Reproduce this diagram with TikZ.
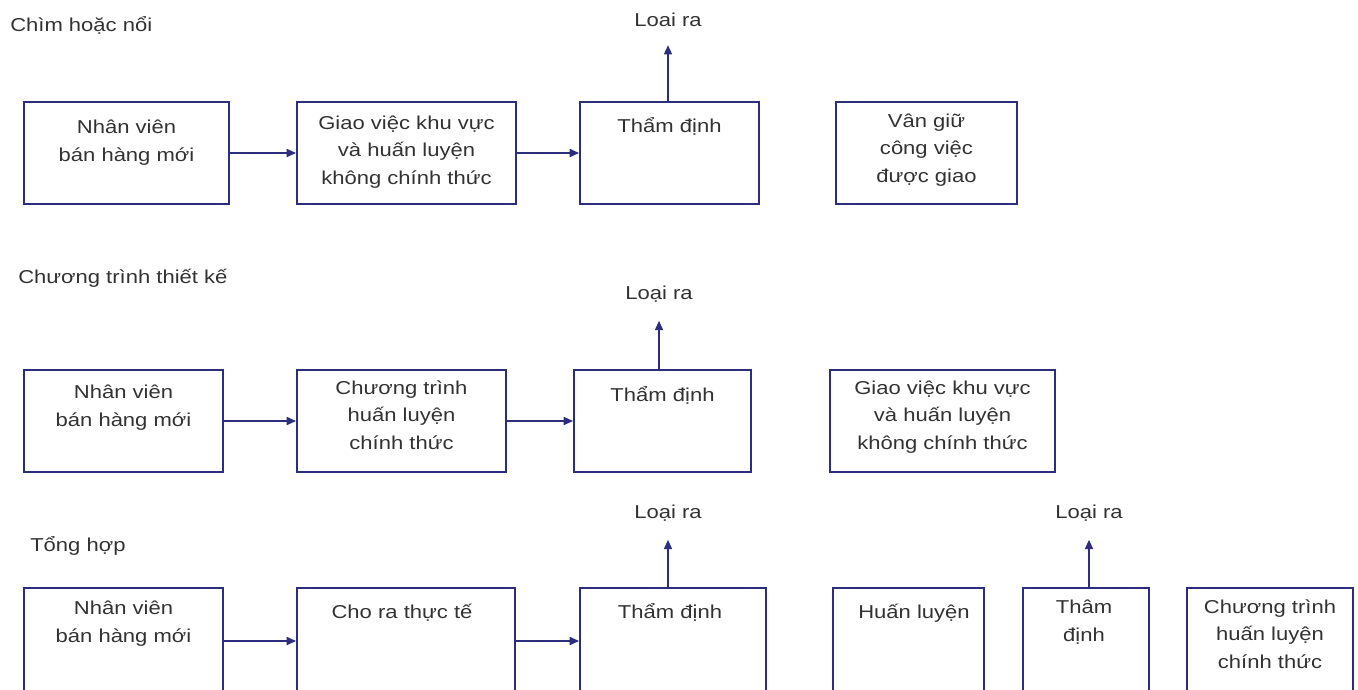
\documentclass[tikz,border=0pt]{standalone}
\usepackage{fontspec}
\setmainfont{Liberation Sans}[FakeStretch=1.18]
\usetikzlibrary{arrows.meta,fit}
\definecolor{navy}{RGB}{45,45,125}
\definecolor{txtc}{RGB}{50,50,50}
\begin{document}
\begin{tikzpicture}[x=0.75pt,y=-0.75pt,
  box/.style={draw=navy,line width=1.4pt,inner sep=0pt},
  lbl/.style={text=txtc,font=\fontsize{14}{20.5}\selectfont,align=center,inner sep=0pt,anchor=base},
  ttl/.style={text=txtc,font=\fontsize{14}{20.5}\selectfont,inner sep=0pt,anchor=base west},
  conn/.style={draw=navy,line width=1.2pt,-{Triangle[length=7pt,width=6pt]}},
  upc/.style={conn,shorten >=14pt}]
\useasboundingbox (0,0) rectangle (1358,689);
\clip (0,0) rectangle (1358,689);

% ---------- Row 1 ----------
\node[ttl] (t1) at (10,31) {Chìm hoặc nổi};
\node[box,fit={(24,102) (229,204)}] (r1a) {};
\node[box,fit={(297,102) (516,204)}] (r1b) {};
\node[box,fit={(580,102) (759,204)}] (r1c) {};
\node[box,fit={(836,102) (1017,204)}] (r1d) {};
\node[lbl] (r1at) at (126.5,161) {Nhân viên\\bán hàng mới};
\node[lbl] (r1bt) at (406.5,184) {Giao việc khu vực\\và huấn luyện\\không chính thức};
\node[lbl] (r1ct) at (669.5,132) {Thẩm định};
\node[lbl] (r1dt) at (926.5,182) {Vân giữ\\công việc\\được giao};
\node[lbl] (r1x) at (668,26) {Loai ra};
\draw[conn] (r1a.east) -- (r1b.west);
\draw[conn] (r1b.east) -- (r1c.west);
\draw[upc] (r1x.south |- r1c.north) -- (r1x.south);

% ---------- Row 2 ----------
\node[ttl] (t2) at (18,283) {Chương trình thiết kế};
\node[box,fit={(24,370) (223,472)}] (r2a) {};
\node[box,fit={(297,370) (506,472)}] (r2b) {};
\node[box,fit={(574,370) (751,472)}] (r2c) {};
\node[box,fit={(830,370) (1055,472)}] (r2d) {};
\node[lbl] (r2at) at (123.5,426) {Nhân viên\\bán hàng mới};
\node[lbl] (r2bt) at (401.5,449) {Chương trình\\huấn luyện\\chính thức};
\node[lbl] (r2ct) at (662.5,401) {Thẩm định};
\node[lbl] (r2dt) at (942.5,449) {Giao việc khu vực\\và huấn luyện\\không chính thức};
\node[lbl] (r2x) at (659,299) {Loại ra};
\draw[conn] (r2a.east) -- (r2b.west);
\draw[conn] (r2b.east) -- (r2c.west);
\draw[upc] (r2x.south |- r2c.north) -- (r2x.south);

% ---------- Row 3 ----------
\node[ttl] (t3) at (30,551) {Tổng hợp};
\node[box,fit={(24,588) (223,760)}] (r3a) {};
\node[box,fit={(297,588) (515,760)}] (r3b) {};
\node[box,fit={(580,588) (766,760)}] (r3c) {};
\node[box,fit={(833,588) (984,760)}] (r3d) {};
\node[box,fit={(1023,588) (1149,760)}] (r3e) {};
\node[box,fit={(1187,588) (1353,760)}] (r3f) {};
\node[lbl] (r3at) at (123.5,642) {Nhân viên\\bán hàng mới};
\node[lbl] (r3bt) at (402,618) {Cho ra thực tế};
\node[lbl] (r3ct) at (670,618) {Thẩm định};
\node[lbl] (r3dt) at (914,618) {Huấn luyện};
\node[lbl] (r3et) at (1084,641) {Thâm\\định};
\node[lbl] (r3ft) at (1270,668) {Chương trình\\huấn luyện\\chính thức};
\node[lbl] (r3x) at (668,518) {Loại ra};
\node[lbl] (r3y) at (1089,518) {Loại ra};
\coordinate (r3m) at (0,641);
\draw[conn] (r3a.east |- r3m) -- (r3b.west |- r3m);
\draw[conn] (r3b.east |- r3m) -- (r3c.west |- r3m);
\draw[upc] (r3x.south |- r3c.north) -- (r3x.south);
\draw[upc] (r3y.south |- r3e.north) -- (r3y.south);
\end{tikzpicture}
\end{document}
